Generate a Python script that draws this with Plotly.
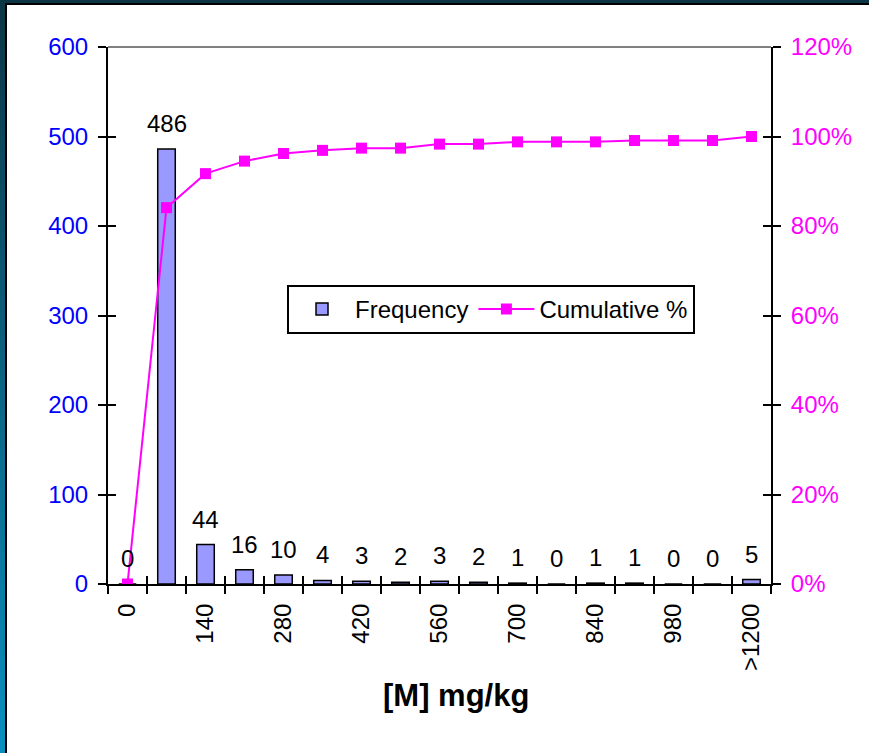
import plotly.graph_objects as go

# ---- data ----
categories = ["0", "70", "140", "210", "280", "350", "420", "490", "560",
              "630", "700", "770", "840", "910", "980", "1050", ">1200"]
tick_labels = ["0", "", "140", "", "280", "", "420", "", "560",
               "", "700", "", "840", "", "980", "", ">1200"]
frequency = [0, 486, 44, 16, 10, 4, 3, 2, 3, 2, 1, 0, 1, 1, 0, 0, 5]
cumulative_pct = [0.0, 0.841, 0.917, 0.945, 0.962, 0.969, 0.974, 0.974, 0.983,
                  0.983, 0.988, 0.988, 0.988, 0.991, 0.991, 0.991, 1.0]
left_ticks = [0, 100, 200, 300, 400, 500, 600]
right_ticks = [0, 0.2, 0.4, 0.6, 0.8, 1.0, 1.2]

FONT = "Liberation Sans, Arial, sans-serif"
FS = 24
BLUE = "#0000FF"
MAG = "#FF00FF"

fig = go.Figure()
fig.add_trace(go.Bar(
    x=categories, y=frequency, name="Frequency",
    marker=dict(color="#9999FF", line=dict(color="black", width=1.5)),
    yaxis="y", xaxis="x", hoverinfo="skip",
))
fig.add_trace(go.Scatter(
    x=categories, y=cumulative_pct, name="Cumulative %",
    mode="lines+markers", line=dict(color=MAG, width=2),
    marker=dict(symbol="square", size=11, color=MAG),
    yaxis="y2", xaxis="x", hoverinfo="skip",
))
# empty helper traces so the inside-tick overlay axes get drawn
fig.add_trace(go.Scatter(x=[], y=[], xaxis="x3", yaxis="y3", showlegend=False,
                         hoverinfo="skip"))
fig.add_trace(go.Scatter(x=[], y=[], xaxis="x3", yaxis="y4", showlegend=False,
                         hoverinfo="skip"))

# data labels above bars (category index positions)
for i, v in enumerate(frequency):
    fig.add_annotation(x=i, y=v, xref="x", yref="y", text=str(v),
                       showarrow=False, yanchor="bottom", yshift=10,
                       font=dict(family=FONT, size=FS, color="black"))

# axis title
fig.add_annotation(x=0.525, y=-0.207, xref="paper", yref="paper",
                   text="[M] mg/kg", showarrow=False,
                   xanchor="center", yanchor="middle",
                   font=dict(family=FONT, size=31, color="black", weight="bold"))

# gray top border of plot area
fig.add_shape(type="line", xref="paper", yref="paper", x0=0, x1=1, y0=1, y1=1,
              line=dict(color="#808080", width=2))

n = len(categories)
fig.update_layout(
    width=862, height=748,
    margin=dict(l=101, r=98, t=42, b=169, pad=0),
    paper_bgcolor="white", plot_bgcolor="white",
    font=dict(family=FONT, size=FS, color="black"),
    bargap=0.55,
    showlegend=True,
    legend=dict(orientation="h", x=0.27, y=0.557, xanchor="left", yanchor="top",
                bgcolor="white", bordercolor="black", borderwidth=2,
                font=dict(family=FONT, size=FS, color="black"),
                itemwidth=56, traceorder="normal"),
    xaxis=dict(type="category", categoryorder="array", categoryarray=categories,
               range=[-0.5, n - 0.5], tickmode="array", tickvals=categories,
               ticktext=tick_labels, tickangle=-90, tickson="boundaries",
               ticks="outside", ticklen=8, tickwidth=2, tickcolor="black",
               ticklabelstandoff=8,
               showline=True, linecolor="black", linewidth=2,
               showgrid=False, zeroline=False,
               tickfont=dict(family=FONT, size=FS, color="black")),
    xaxis3=dict(overlaying="x", anchor="y", side="bottom", type="linear",
                range=[-0.5, n - 0.5], tick0=-0.5, dtick=1,
                ticks="inside", ticklen=8, tickwidth=2, tickcolor="black",
                showticklabels=False, showline=False, showgrid=False, zeroline=False),
    yaxis=dict(range=[0, 600], tickvals=left_ticks, ticks="outside", ticklen=8,
               tickwidth=2, tickcolor="black", showline=True, linecolor="black",
               linewidth=2, showgrid=False, zeroline=False, ticklabelstandoff=5,
               tickfont=dict(family=FONT, size=FS, color=BLUE)),
    yaxis3=dict(overlaying="y", side="left", anchor="x3", range=[0, 600],
                tickvals=left_ticks, ticks="inside", ticklen=8, tickwidth=2,
                tickcolor="black", showticklabels=False, showline=False,
                showgrid=False, zeroline=False),
    yaxis2=dict(overlaying="y", side="right", anchor="x", range=[0, 1.2],
                tickvals=right_ticks, tickformat=".0%", ticks="outside", ticklen=8,
                tickwidth=2, tickcolor="black", showline=True, linecolor="black",
                linewidth=2, showgrid=False, zeroline=False, ticklabelstandoff=5,
                tickfont=dict(family=FONT, size=FS, color=MAG)),
    yaxis4=dict(overlaying="y", side="right", anchor="x3", range=[0, 1.2],
                tickvals=right_ticks, ticks="inside", ticklen=8, tickwidth=2,
                tickcolor="black", showticklabels=False, showline=False,
                showgrid=False, zeroline=False),
)

post = """
(function(){
  var gd = document.getElementById('{plot_id}');
  document.documentElement.style.height='100%';
  document.documentElement.style.overflow='hidden';
  var b = document.body;
  b.style.margin='0';
  b.style.padding='3px 0 0 5px';
  b.style.overflow='hidden';
  b.style.minHeight='100%';
  b.style.boxSizing='border-box';
  b.style.background='linear-gradient(to bottom, #0b3544 0%, #0b5f7c 45%, #0a8fbf 100%)';
  gd.style.borderLeft='2px solid black';
  gd.style.borderTop='2px solid black';
  gd.style.background='white';
})();
"""

fig.write_html("out.html", config={"displayModeBar": False}, post_script=post)
